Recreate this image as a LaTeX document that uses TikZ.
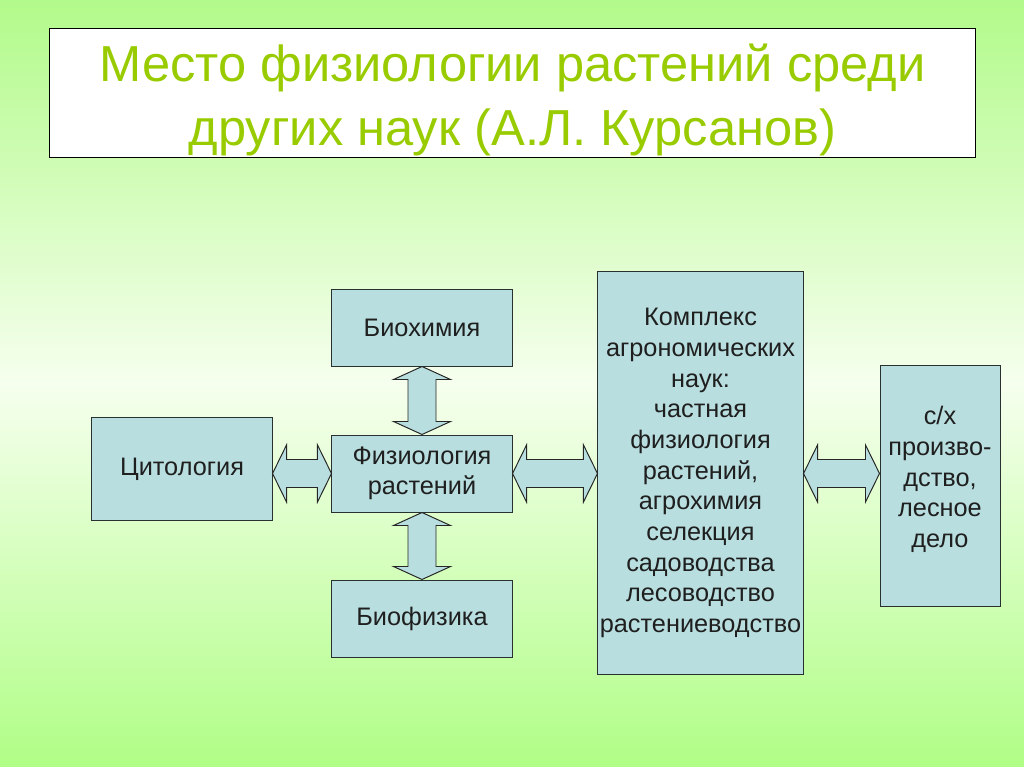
\documentclass[tikz,border=0pt]{standalone}
\usepackage{fontspec}
\setmainfont{Liberation Sans}
\usetikzlibrary{calc}
\definecolor{bgtop}{RGB}{178,250,138}
\definecolor{bgmid}{RGB}{246,255,238}
\definecolor{bgbot}{RGB}{176,254,134}
\definecolor{ttlgreen}{RGB}{153,204,0}
\definecolor{boxblue}{RGB}{185,222,223}
\definecolor{edge}{RGB}{40,48,48}
\newcommand{\harr}[2]{%
  \draw[arr] let \p1=(#1.east), \p2=(#2.west), \p3=(fiz.center) in
    (\x1,\y3) -- ($(\x1,\y3)+(14,-28.5)$) -- ($(\x1,\y3)+(14,-14)$) -- ($(\x2,\y3)+(-14,-14)$)
    -- ($(\x2,\y3)+(-14,-28.5)$) -- (\x2,\y3) -- ($(\x2,\y3)+(-14,28.5)$) -- ($(\x2,\y3)+(-14,14)$)
    -- ($(\x1,\y3)+(14,14)$) -- ($(\x1,\y3)+(14,28.5)$) -- cycle;}
\newcommand{\varr}[2]{%
  \draw[arr] let \p1=(#1.south), \p2=(#2.north) in
    (\x1,\y1) -- ($(\x1,\y1)+(28.5,13)$) -- ($(\x1,\y1)+(14,13)$) -- ($(\x1,\y2)+(14,-13)$)
    -- ($(\x1,\y2)+(28.5,-13)$) -- (\x1,\y2) -- ($(\x1,\y2)+(-28.5,-13)$) -- ($(\x1,\y2)+(-14,-13)$)
    -- ($(\x1,\y1)+(-14,13)$) -- ($(\x1,\y1)+(-28.5,13)$) -- cycle;}

\begin{document}
\begin{tikzpicture}[x=0.025cm,y=-0.025cm,
  box/.style={rectangle,draw=edge,line width=0.7pt,fill=boxblue,inner sep=0pt,align=center,
    minimum width=4.5cm,minimum height=1.925cm,text=black!88,
    font=\fontsize{18}{21.8}\selectfont},
  ttl/.style={rectangle,draw=black,line width=0.7pt,fill=white,align=center,inner ysep=0pt,
    minimum width=23.125cm,minimum height=3.2cm,text=ttlgreen,
    font=\fontsize{36}{45.4}\selectfont},
  arr/.style={draw=black!85,line width=0.7pt,fill=boxblue,line join=miter}]
\useasboundingbox (0,0) rectangle (1024,767);
\shade[top color=bgtop,bottom color=bgbot,middle color=bgmid] (0,0) rectangle (1024,767);
\node[ttl] (title) at (512.5,93) {\rule{0pt}{37pt}Место физиологии растений среди\\других наук (А.Л. Курсанов)};
% blocks
\node[box,minimum height=1.9cm] (bhm) at (422,328) {Биохимия};
\node[box] (fiz) at (422,473.5) {Физиология\\растений};
\node[box] (bfz) at (422,618.5) {Биофизика};
\node[box,minimum height=2.55cm] (cyt) at (182,469) {Цитология};
\node[box,minimum width=5.125cm,minimum height=10.05cm] (kmp) at (700.5,473)
  {Комплекс\\агрономических\\наук:\\частная\\физиология\\растений,\\агрохимия\\селекция\\садоводства\\лесоводство\\растениеводство};
\node[box,minimum width=3cm,minimum height=6cm] (sx) at (940,486)
  {с/х\\произво-\\дство,\\лесное\\дело\rule[-13pt]{0pt}{13pt}};
% arrows
\varr{bhm}{fiz}
\varr{fiz}{bfz}
\harr{cyt}{fiz}
\harr{fiz}{kmp}
\harr{kmp}{sx}
\end{tikzpicture}
\end{document}
